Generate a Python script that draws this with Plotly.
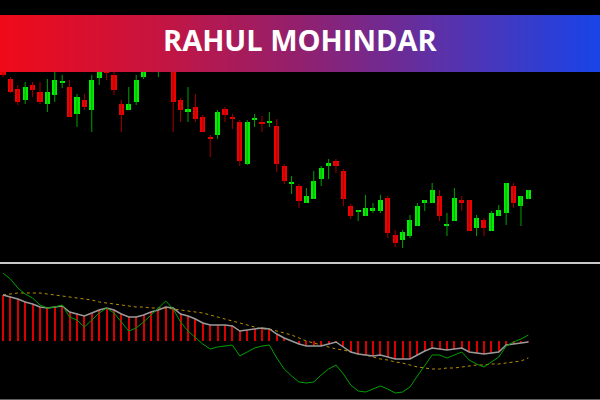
import plotly.graph_objects as go

# ---------------- data ----------------
opens = [236,221,211,200,215,208,196,205,217.5,213, 186,200,190,222,234,225,196,190,198,223,
         234,232,250,234,200,188,193,183,163,165, 191,183,178,136,180.5,178,177.5,174,134,116.5,
         114,97,101,121,134,139,129,94,88.5,84, 89,89,102,65,60,64,74,97,97,104,
         74.5,79,100,100,72,80,69,84,87,114, 94,101]
closes = [225,208,198,213,210,198,208,220,218.5,183, 203,193,220,234,227,210,185,196,220,232,
          245,240,240,198,190,191,181,168,161,188, 185,181,139,178,181.5,176,178.5,136,119,117.5,
          99,104,119,132,137,134,101,84,89.5,92, 92,100,67,57,68,80,94,100,110,84,
          75.5,102,97,69,82,72,87,90,117,97, 104,110]
highs = [240,223,215,218,218,218,221,232,225,220, 206,206,225,240,240,230,200,213,225,240,
         250,245,255,240,202,213,206,185,165,190, 193,186,180,180,186,184,188,181,136,124,
         116,112,129,134,141,141,131,96,90,105, 97,105,104,70,70,85,97,100,117,110,
         87,112,104,100,85,82,89,95,117,117, 104,110]
lows = [223,207,195,196,203,196,188,198,212,183, 173,190,168,215,220,205,168,190,195,221,
        230,223,234,168,178,178,178,168,143,161, 178,171,134,135,173,168,173,128,116,106,
        92,97,101,114,121,127,94,81,79,84, 87,87,62,53,52,62,74,89,97,79,
        64,79,89,69,64,64,69,84,75,92, 74,101]

osc_values = [46,44,42,39,37,34,33,34,35,29, 27,25,28,31,33,31,27,24,24,26,
              29,31,34,33,27,25,22,18,16,16, 16,15,10,11,12,13,12,7,3,0,
              -3,-5,-5,-5,-3,-1,-6,-11,-13,-14, -15,-14,-16,-18,-18,-18,-14,-10,-7,-8,
              -9,-8,-7,-11,-12,-13,-12,-11,-4,-3, -2,-1]
fast_line = [68,62,53,47,43,36,33,34,36,24, 21,14,21,28,33,28,19,10,13,19,
             26,33,40,32,19,10,3,-3,-8,-6, -5,-4,-15,-11,-7,-5,-4,-17,-28,-35,
             -41,-42,-41,-34,-28,-24,-33,-44,-50,-51, -48,-45,-48,-52,-51,-46,-35,-24,-14,-14,
             -17,-14,-11,-19,-23,-26,-21,-16,-5,-1, 2,6]
slow_line = [46,47,48,48,48,48,47,46,45,44, 43,42,41,39,38,37,36,35,34,34,
             33,33,33,32,31,30,29,28,26,24, 22,20,18,16,14,12,12,10,8,6,
             3,0,-2,-4,-6,-8,-9,-11,-13,-14, -16,-18,-19,-21,-22,-24,-26,-27,-28,-28,
             -27,-27,-26,-25,-24,-24,-23,-23,-22,-21, -20,-17]

title_text = "RAHUL MOHINDAR"

# ---------------- build ----------------
n = len(opens)
xs = list(range(n))
up = [c >= o for o, c in zip(opens, closes)]

fig = go.Figure()

# wicks
for is_up, col in [(True, "#00a000"), (False, "#a00000")]:
    wx, wy = [], []
    for i in xs:
        if up[i] == is_up:
            wx += [i, i, None]
            wy += [lows[i], highs[i], None]
    fig.add_trace(go.Scatter(x=wx, y=wy, mode="lines", line=dict(color=col, width=1),
                             hoverinfo="skip", showlegend=False, xaxis="x", yaxis="y"))

# bodies
for is_up, col in [(True, "#00f000"), (False, "#f00000")]:
    bx, bb, bh = [], [], []
    for i in xs:
        if up[i] == is_up:
            lo = min(opens[i], closes[i])
            h = max(abs(opens[i] - closes[i]), 1.5)
            bx.append(i); bb.append(lo); bh.append(h)
    fig.add_trace(go.Bar(x=bx, y=bh, base=bb, width=0.68, marker=dict(color=col, line=dict(width=0)),
                         showlegend=False, xaxis="x", yaxis="y"))

# indicator histogram
fig.add_trace(go.Bar(x=xs, y=osc_values, width=0.28, marker=dict(color="#d80000", line=dict(width=0)),
                     showlegend=False, xaxis="x", yaxis="y2"))
fig.add_trace(go.Scatter(x=xs, y=slow_line, mode="lines", line=dict(color="#b89000", width=1, dash="dot"),
                         showlegend=False, xaxis="x", yaxis="y2"))
fig.add_trace(go.Scatter(x=xs, y=osc_values, mode="lines", line=dict(color="#9a9a9a", width=1.5),
                         showlegend=False, xaxis="x", yaxis="y2"))
fig.add_trace(go.Scatter(x=xs, y=fast_line, mode="lines", line=dict(color="#00a000", width=1),
                         showlegend=False, xaxis="x", yaxis="y2"))

# gradient banner
shapes = []
stops = [(0.0, (240, 10, 26)), (0.25, (200, 20, 62)), (0.5, (146, 32, 110)),
         (0.75, (88, 50, 172)), (1.0, (24, 68, 232))]
def grad(t):
    for (t0, c0), (t1, c1) in zip(stops[:-1], stops[1:]):
        if t <= t1:
            f = (t - t0) / (t1 - t0)
            return "rgb(%d,%d,%d)" % tuple(round(a + (b - a) * f) for a, b in zip(c0, c1))
    return "rgb(%d,%d,%d)" % stops[-1][1]

steps = 150
for k in range(steps):
    shapes.append(dict(type="rect", xref="paper", yref="paper",
                       x0=k / steps, x1=(k + 1) / steps + 0.002, y0=1 - 72 / 400, y1=1 - 15 / 400,
                       fillcolor=grad((k + 0.5) / steps), line=dict(width=0), layer="above"))
shapes.append(dict(type="rect", xref="paper", yref="paper", x0=0, x1=1, y0=1 - 15 / 400, y1=1,
                   fillcolor="black", line=dict(width=0), layer="above"))
# separator
shapes.append(dict(type="line", xref="paper", yref="paper", x0=0, x1=1,
                   y0=1 - 263 / 400, y1=1 - 263 / 400, line=dict(color="#c8c8c8", width=2)))
shapes.append(dict(type="line", xref="paper", yref="paper", x0=0, x1=1,
                   y0=0.5 / 400, y1=0.5 / 400, line=dict(color="#606060", width=1)))

fig.update_layout(
    width=600, height=400,
    margin=dict(l=0, r=0, t=0, b=0),
    paper_bgcolor="black", plot_bgcolor="black",
    barmode="overlay", bargap=0,
    showlegend=False, hovermode=False,
    xaxis=dict(range=[-0.405, 80.68], visible=False, fixedrange=True),
    yaxis=dict(domain=[1 - 262 / 400, 1], range=[38, 300], visible=False, fixedrange=True),
    yaxis2=dict(domain=[0, 1 - 265 / 400], range=[-59, 76], visible=False, fixedrange=True),
    shapes=shapes,
    annotations=[dict(text=title_text, xref="paper", yref="paper", x=0.5, y=1 - 40 / 400,
                      xanchor="center", yanchor="middle", showarrow=False,
                      font=dict(family="Open Sans", size=29, color="white", weight=700))],
)

fig.write_html("out.html", config={"displayModeBar": False},
               post_script="document.body.style.margin='0';document.body.style.background='black';")
